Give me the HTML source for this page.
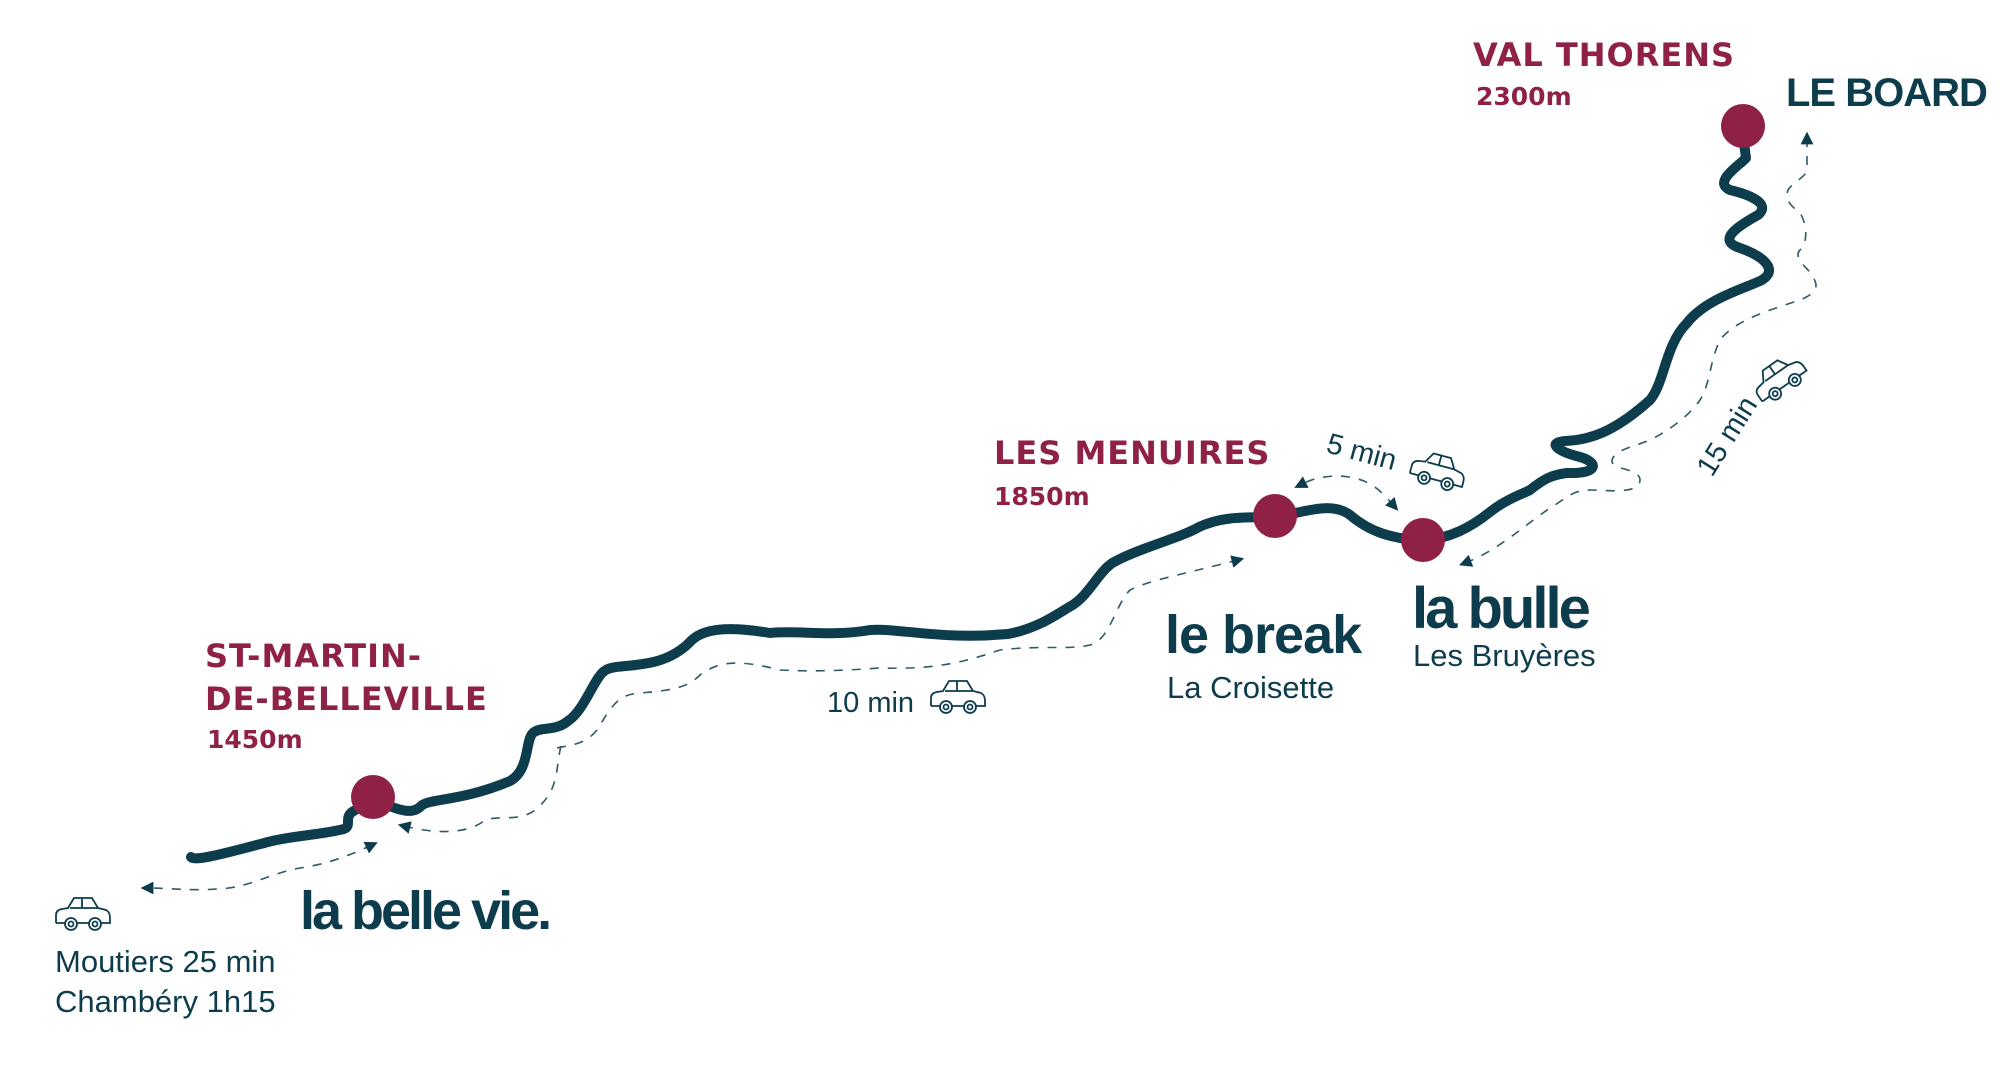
<!DOCTYPE html>
<html><head><meta charset="utf-8"><style>
html,body{margin:0;padding:0;background:#fff;}
svg{display:block;}
.r{fill:#8f2146;font-family:"DejaVu Sans","Liberation Sans",sans-serif;font-weight:bold;}
.d{fill:#0d3d4d;font-family:"Liberation Sans",sans-serif;}
.road{fill:none;stroke:#0d3d4d;stroke-width:10;stroke-linecap:round;stroke-linejoin:round;}
.dash{fill:none;stroke:#2f5a66;stroke-width:1.6;stroke-dasharray:9 9;}
.car{fill:none;stroke:#0d3d4d;stroke-width:1.8;}
</style></head><body>
<svg width="2000" height="1071" viewBox="0 0 2000 1071">
<defs>
<marker id="ah" markerWidth="8" markerHeight="8" refX="4" refY="4" orient="auto-start-reverse"><path d="M0,0 L8,4 L0,8 z" fill="#0d3d4d"/></marker>
<g id="car">
<path class="car" d="M-26,8 L-26,0 Q-26,-5 -20,-6 L-14,-7 L-8,-17 L10,-17 L16,-7 L24,-5 Q28,-3 28,3 L28,8 L18,8 M8,8 L-6,8 M-16,8 L-26,8 M-12,-7 L16,-7 M0,-17 L0,-7"/>
<circle class="car" cx="-11" cy="9" r="6"/><circle class="car" cx="-11" cy="9" r="2.5"/>
<circle class="car" cx="13" cy="9" r="6"/><circle class="car" cx="13" cy="9" r="2.5"/>
</g>
</defs>
<!-- road -->
<path class="road" d="M191,857 C194,862 230,852 268,842 C290,836 320,835 344,829 C352,826 344,818 352,812 L372,800 C390,805 410,818 421,806 C430,798 460,802 510,781 C530,770 525,740 533,733 C540,726 555,732 568,721 C585,710 595,675 606,670 C620,662 660,672 690,642 C705,625 740,628 770,633 C800,630 830,637 870,630 C900,628 940,640 1008,634 C1040,628 1060,612 1071,606 C1090,595 1100,568 1116,561 C1140,548 1180,538 1199,527 C1225,515 1250,518 1274,517 C1300,514 1330,500 1350,515 C1370,532 1390,538 1423,541 C1450,538 1470,528 1490,512 C1505,500 1520,495 1530,490 C1545,478 1552,475 1567,473 C1600,474 1598,462 1580,457 C1560,452 1545,443 1565,441 C1595,440 1620,427 1650,400 C1665,382 1665,345 1687,323 C1705,300 1740,290 1760,281 C1778,272 1768,258 1740,248 C1715,240 1740,225 1758,215 C1770,205 1755,196 1730,190 C1712,182 1740,165 1746,158 L1742,128"/>
<!-- dots -->
<circle cx="373" cy="797" r="22" fill="#8f2146"/>
<circle cx="1275" cy="516" r="22" fill="#8f2146"/>
<circle cx="1423" cy="540" r="22" fill="#8f2146"/>
<circle cx="1743" cy="126" r="22" fill="#8f2146"/>
<!-- dashed connectors -->
<path class="dash" marker-start="url(#ah)" marker-end="url(#ah)" d="M372,845 C340,860 320,865 300,868 C270,873 250,888 217,889 C190,891 170,888 147,888"/>
<path class="dash" marker-end="url(#ah)" d="M561,746 C555,770 560,790 535,810 C520,822 500,815 485,820 C470,833 440,835 404,826"/>
<path class="dash" marker-end="url(#ah)" d="M557,748 C570,745 585,745 597,730 C615,700 620,695 640,693 C680,690 690,685 700,675 C720,660 740,660 780,670 C820,672 850,670 880,668 C940,670 970,660 1000,650 C1040,645 1070,650 1090,645 C1110,640 1115,605 1130,590 C1150,580 1180,575 1238,560"/>
<path class="dash" marker-start="url(#ah)" marker-end="url(#ah)" d="M1394,506 C1380,490 1370,478 1340,476 C1320,476 1310,480 1300,485"/>
<path class="dash" marker-start="url(#ah)" marker-end="url(#ah)" d="M1465,563 C1500,550 1530,520 1555,505 C1570,495 1575,490 1590,490 C1605,490 1640,495 1640,480 C1640,468 1610,470 1612,460 C1615,450 1630,448 1650,440 C1670,430 1690,415 1700,400 C1710,385 1710,360 1720,340 C1735,320 1770,310 1800,300 C1825,290 1815,280 1808,270 C1800,262 1795,255 1800,250 C1810,240 1805,220 1800,213 C1790,205 1785,200 1788,190 C1795,180 1805,178 1807,170 L1807,138"/>
<!-- cars -->
<use href="#car" x="82" y="915"/>
<use href="#car" x="957" y="698"/>
<use href="#car" transform="translate(1437,472) rotate(15)"/>
<use href="#car" transform="translate(1779,380) rotate(-35)"/>
<!-- red labels -->
<text class="r" x="1473" y="66" font-size="32" letter-spacing="1">VAL THORENS</text>
<text class="r" x="1476" y="105" font-size="25">2300m</text>
<text class="r" x="994" y="464" font-size="32" letter-spacing="1">LES MENUIRES</text>
<text class="r" x="994" y="505" font-size="25">1850m</text>
<text class="r" x="205" y="667" font-size="32" letter-spacing="1">ST-MARTIN-</text>
<text class="r" x="205" y="710" font-size="32" letter-spacing="1">DE-BELLEVILLE</text>
<text class="r" x="207" y="748" font-size="25">1450m</text>
<!-- brand labels -->
<text class="d" x="1786" y="106" font-size="40" font-weight="bold" letter-spacing="-1">LE BOARD</text>
<text class="d" x="1165" y="653" font-size="54" font-weight="bold" letter-spacing="-1">le break</text>
<text class="d" x="1167" y="698" font-size="31">La Croisette</text>
<text class="d" x="1412" y="628" font-size="58" font-weight="bold" letter-spacing="-3">la bulle</text>
<text class="d" x="1413" y="666" font-size="31">Les Bruyères</text>
<text class="d" x="300" y="929" font-size="54" font-weight="bold" letter-spacing="-3">la belle vie.</text>
<text class="d" x="55" y="972" font-size="31">Moutiers 25 min</text>
<text class="d" x="55" y="1012" font-size="31">Chambéry 1h15</text>
<text class="d" x="827" y="712" font-size="29">10 min</text>
<text class="d" font-size="29" transform="translate(1325,452) rotate(15)">5 min</text>
<text class="d" font-size="29" transform="translate(1712,478) rotate(-58)">15 min</text>
</svg>
</body></html>
